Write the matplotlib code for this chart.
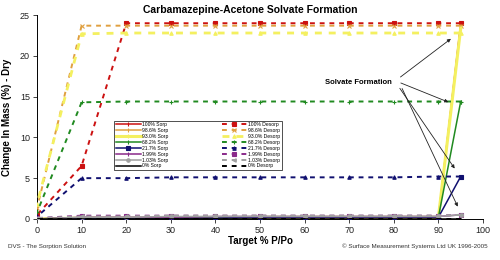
import numpy as np
import matplotlib.pyplot as plt

plt.rcParams['font.family'] = ['Liberation Sans', 'DejaVu Sans']

# sorption steps (target % P/Po) and the change in mass at each step
sorp_x = [0, 10, 20, 30, 40, 50, 60, 70, 80, 90, 95]
desorp_x = [95, 90, 80, 70, 60, 50, 40, 30, 20, 10, 0]

labels = ['100%', '98.6%', '93.0%', '68.2%', '21.7%', '1.99%', '1.03%', '0%']

sorp_100 = [0.0, 0.1, 0.1, 0.1, 0.1, 0.2, 0.2, 0.2, 0.2, 0.2, 24.0]
sorp_986 = [0.0, 0.1, 0.1, 0.1, 0.1, 0.2, 0.2, 0.2, 0.2, 0.2, 23.7]
sorp_930 = [0.0, 0.1, 0.1, 0.1, 0.1, 0.2, 0.2, 0.2, 0.2, 0.2, 23.4]
sorp_682 = [0.0, 0.1, 0.1, 0.1, 0.1, 0.2, 0.2, 0.2, 0.2, 0.2, 14.4]
sorp_217 = [0.0, 0.1, 0.1, 0.1, 0.1, 0.2, 0.2, 0.2, 0.2, 0.2, 5.2]
sorp_199 = [0.0, 0.2, 0.2, 0.2, 0.3, 0.3, 0.3, 0.3, 0.3, 0.3, 0.5]
sorp_103 = [0.0, 0.2, 0.2, 0.3, 0.3, 0.3, 0.3, 0.3, 0.3, 0.3, 0.5]
sorp_0 = [0.0, 0.0, 0.0, 0.0, 0.0, 0.0, 0.0, 0.0, 0.0, 0.0, 0.0]

desorp_100 = [24.0, 24.0, 24.0, 24.0, 24.0, 24.0, 24.0, 24.0, 24.0, 6.5, 0.5]
desorp_986 = [23.7, 23.7, 23.7, 23.7, 23.7, 23.7, 23.7, 23.7, 23.7, 23.7, 1.3]
desorp_930 = [22.8, 22.8, 22.8, 22.8, 22.8, 22.8, 22.8, 22.8, 22.8, 22.7, 1.8]
desorp_682 = [14.4, 14.4, 14.4, 14.4, 14.4, 14.4, 14.4, 14.4, 14.4, 14.3, 0.8]
desorp_217 = [5.2, 5.2, 5.1, 5.1, 5.1, 5.1, 5.1, 5.1, 5.0, 5.0, 0.3]
desorp_199 = [0.5, 0.4, 0.4, 0.4, 0.4, 0.4, 0.4, 0.4, 0.4, 0.4, 0.1]
desorp_103 = [0.5, 0.4, 0.4, 0.4, 0.4, 0.4, 0.4, 0.4, 0.3, 0.3, 0.1]
desorp_0 = [0.0, 0.0, 0.0, 0.0, 0.0, 0.0, 0.0, 0.0, 0.0, 0.0, 0.0]

sorp = [sorp_100, sorp_986, sorp_930, sorp_682, sorp_217, sorp_199, sorp_103, sorp_0]
desorp = [desorp_100, desorp_986, desorp_930, desorp_682, desorp_217, desorp_199, desorp_103, desorp_0]

colors = ['#cc1111', '#e0a040', '#f4f060', '#208a20', '#101070', '#8a2a8a', '#a0a0a0', '#000000']
sorp_mk = ['|', '|', '|', '|', 's', '|', 'o', None]
desorp_mk = ['s', 'x', '^', '+', '^', 's', '<', None]

# arrow tips for the "Solvate Formation" note
arrow_tips = [(93.3, 22.3), (92.8, 14.2), (94.0, 5.9), (94.6, 1.2)]

fig = plt.figure(figsize=(5, 2.6), dpi=100)
ax = fig.add_axes([0.074, 0.158, 0.892, 0.784])

handles_s = []
handles_d = []
for i in range(len(labels)):
    lw = 2.2 if i == 2 else 1.1
    hs, = ax.plot(sorp_x, sorp[i], color=colors[i], lw=lw, marker=sorp_mk[i],
                  ms=2.5, mew=0.8, label=labels[i] + ' Sorp', zorder=3)
    hd, = ax.plot(desorp_x, desorp[i], color=colors[i], lw=1.4 if i != 2 else 2.0,
                  ls=(0, (2.5, 2.5)), marker=desorp_mk[i], ms=2.5, mew=0.8,
                  label=labels[i] + ' Desorp', zorder=3)
    handles_s.append(hs)
    handles_d.append(hd)

ax.set_xlim(0, 100)
ax.set_ylim(0, 25)
ax.set_xticks(np.arange(0, 101, 10))
ax.set_yticks(np.arange(0, 26, 5))
ax.tick_params(labelsize=6.5, length=3, width=0.6, colors='#222222', pad=2)
for s in ['top', 'right']:
    ax.spines[s].set_visible(False)
for s in ['left', 'bottom']:
    ax.spines[s].set_linewidth(0.7)

ax.set_xlabel('Target % P/Po', fontsize=7, fontweight='bold', labelpad=1)
ax.set_ylabel('Change In Mass (%) - Dry', fontsize=7, fontweight='bold', labelpad=6)
fig.text(0.5, 0.962, 'Carbamazepine-Acetone Solvate Formation', ha='center', va='center',
         fontsize=7.5, fontweight='bold')

leg = ax.legend(handles_s + handles_d, [h.get_label() for h in handles_s + handles_d],
                ncol=2, loc='lower left', bbox_to_anchor=(0.173, 0.24, 0.376, 0.314),
                mode='expand', fontsize=3.6, frameon=True, fancybox=False,
                edgecolor='black', handlelength=5, borderpad=0.3, labelspacing=0.18,
                handletextpad=0.3, columnspacing=1.0, borderaxespad=0)
leg.get_frame().set_linewidth(0.6)

ax.text(72, 16.7, 'Solvate Formation', fontsize=5.5, fontweight='bold', ha='center', va='center')
starts = [(81.0, 17.2), (81.0, 16.8), (81.0, 16.3), (81.6, 16.3)]
for (x0, y0), (x1, y1) in zip(starts, arrow_tips):
    ax.annotate('', xy=(x1, y1), xytext=(x0, y0),
                arrowprops=dict(arrowstyle='-|>', color='#222222', lw=0.6,
                                mutation_scale=5))

fig.text(0.016, 0.045, 'DVS - The Sorption Solution', fontsize=4.5, color='#333333')
fig.text(0.975, 0.045, '\u00a9 Surface Measurement Systems Ltd UK 1996-2005', fontsize=4.5,
         color='#333333', ha='right')

fig.savefig('out.png', dpi=100)
